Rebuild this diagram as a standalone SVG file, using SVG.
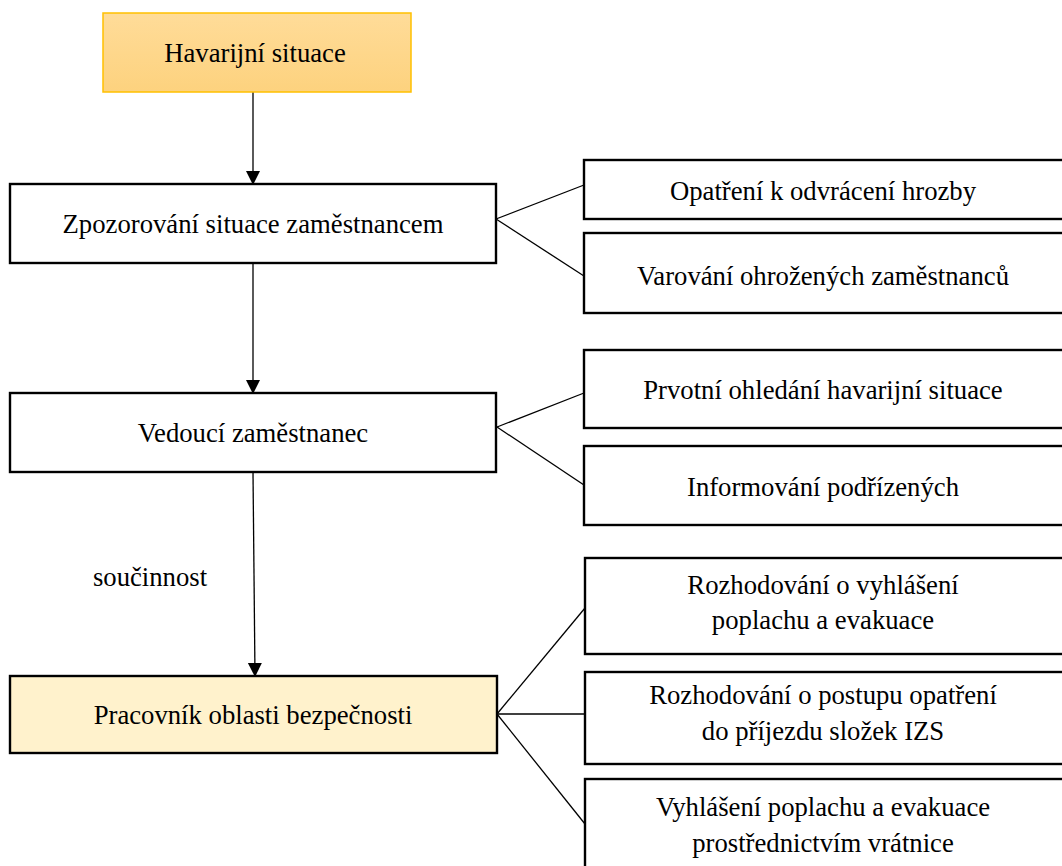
<svg xmlns="http://www.w3.org/2000/svg" width="1062" height="866" viewBox="0 0 1062 866">
  <style>
    .box { fill: #ffffff; stroke: #000000; stroke-width: 2.4; }
    .hl { fill: #fff2cc; stroke: #000000; stroke-width: 2.4; }
    .start { fill: url(#startFill); stroke: #ffc000; stroke-width: 1.5; }
    .lbl { font-family: "Liberation Serif", "Times New Roman", serif; font-size: 26.7px; fill: #000000; text-anchor: middle; }
    .edge { stroke: #000000; stroke-width: 1.3; fill: none; }
  </style>
  <defs>
    <linearGradient id="startFill" x1="0" y1="0" x2="0" y2="1">
      <stop offset="0" stop-color="#ffdc99"/>
      <stop offset="1" stop-color="#fdd27e"/>
    </linearGradient>
    <marker id="arrow" markerUnits="userSpaceOnUse" markerWidth="14" markerHeight="16" refX="13" refY="7" orient="auto">
      <path d="M0,0 L14,7 L0,14 Z" fill="#000000"/>
    </marker>
  </defs>

  <!-- connectors -->
  <g id="connectors">
    <line class="edge" x1="253" y1="92" x2="253" y2="184" marker-end="url(#arrow)"/>
    <line class="edge" x1="253" y1="263" x2="253" y2="393" marker-end="url(#arrow)"/>
    <line class="edge" x1="253" y1="472" x2="255" y2="676" marker-end="url(#arrow)"/>
    <line class="edge" x1="496" y1="219" x2="584" y2="185"/>
    <line class="edge" x1="496" y1="219" x2="584" y2="276"/>
    <line class="edge" x1="497" y1="427" x2="584" y2="393"/>
    <line class="edge" x1="497" y1="427" x2="584" y2="485"/>
    <line class="edge" x1="497" y1="714" x2="585" y2="608"/>
    <line class="edge" x1="497" y1="714" x2="585" y2="714"/>
    <line class="edge" x1="497" y1="714" x2="585" y2="824"/>
    <text class="lbl" x="150" y="586">součinnost</text>
  </g>

  <!-- main flow -->
  <g id="havarijni-situace">
    <rect class="start" x="103" y="13" width="308" height="79"/>
    <text class="lbl" x="255" y="62">Havarijní situace</text>
  </g>
  <g id="zpozorovani">
    <rect class="box" x="10" y="184" width="486" height="79"/>
    <text class="lbl" x="253" y="233">Zpozorování situace zaměstnancem</text>
  </g>
  <g id="vedouci">
    <rect class="box" x="10" y="393" width="486" height="79"/>
    <text class="lbl" x="253" y="442">Vedoucí zaměstnanec</text>
  </g>
  <g id="pracovnik">
    <rect class="hl" x="10" y="676" width="487" height="77"/>
    <text class="lbl" x="253" y="724">Pracovník oblasti bezpečnosti</text>
  </g>

  <!-- side actions -->
  <g id="opatreni">
    <rect class="box" x="584" y="160" width="490" height="59"/>
    <text class="lbl" x="823" y="200">Opatření k odvrácení hrozby</text>
  </g>
  <g id="varovani">
    <rect class="box" x="584" y="233" width="490" height="80"/>
    <text class="lbl" x="823" y="285">Varování ohrožených zaměstnanců</text>
  </g>
  <g id="prvotni-ohledani">
    <rect class="box" x="584" y="350" width="490" height="78"/>
    <text class="lbl" x="823" y="399">Prvotní ohledání havarijní situace</text>
  </g>
  <g id="informovani">
    <rect class="box" x="584" y="446" width="490" height="79"/>
    <text class="lbl" x="823" y="496">Informování podřízených</text>
  </g>
  <g id="rozhodovani-poplach">
    <rect class="box" x="585" y="558" width="490" height="96"/>
    <text class="lbl" x="823" y="594">Rozhodování o vyhlášení</text>
    <text class="lbl" x="823" y="629">poplachu a evakuace</text>
  </g>
  <g id="rozhodovani-postup">
    <rect class="box" x="585" y="672" width="490" height="92"/>
    <text class="lbl" x="823" y="704">Rozhodování o postupu opatření</text>
    <text class="lbl" x="823" y="740">do příjezdu složek IZS</text>
  </g>
  <g id="vyhlaseni">
    <rect class="box" x="585" y="779" width="490" height="100"/>
    <text class="lbl" x="823" y="816">Vyhlášení poplachu a evakuace</text>
    <text class="lbl" x="823" y="852">prostřednictvím vrátnice</text>
  </g>
</svg>
